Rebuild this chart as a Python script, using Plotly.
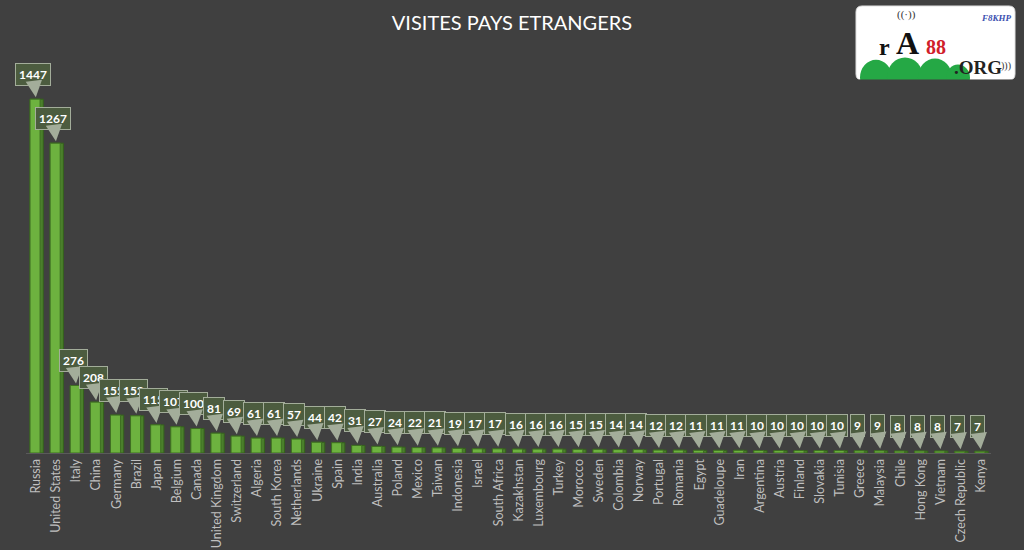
import plotly.graph_objects as go

countries = ["Russia", "United States", "Italy", "China", "Germany", "Brazil", "Japan", "Belgium",
             "Canada", "United Kingdom", "Switzerland", "Algeria", "South Korea", "Netherlands",
             "Ukraine", "Spain", "India", "Australia", "Poland", "Mexico", "Taiwan", "Indonesia",
             "Israel", "South Africa", "Kazakhstan", "Luxembourg", "Turkey", "Morocco", "Sweden",
             "Colombia", "Norway", "Portugal", "Romania", "Egypt", "Guadeloupe", "Iran", "Argentina",
             "Austria", "Finland", "Slovakia", "Tunisia", "Greece", "Malaysia", "Chile", "Hong Kong",
             "Vietnam", "Czech Republic", "Kenya"]
visits = [1447, 1267, 276, 208, 155, 152, 115, 107, 100, 81, 69, 61, 61, 57, 44, 42, 31, 27, 24,
          22, 21, 19, 17, 17, 16, 16, 16, 15, 15, 14, 14, 12, 12, 11, 11, 11, 10, 10, 10, 10, 10,
          9, 9, 8, 8, 8, 7, 7]
title_text = "VISITES PAYS ETRANGERS"

BG = "#404040"
ML, MR, MT, MB = 26, 33, 60, 97
W, H = 1024, 550

def px2paper(px, py):
    return (px - ML) / (W - ML - MR), 1 - (py - MT) / (H - MT - MB)

fig = go.Figure()
# side (darker) face
fig.add_trace(go.Bar(x=countries, y=visits, width=0.66, offset=-0.30,
                     marker=dict(color="#4a7f2b", line=dict(color="#35601d", width=1)),
                     hoverinfo="skip", showlegend=False))
# front (lighter) face
fig.add_trace(go.Bar(x=countries, y=visits, width=0.50, offset=-0.30,
                     marker=dict(color="#6db23f", line=dict(color="#3f6e23", width=1)),
                     showlegend=False))

annotations = []
for c, v in zip(countries, visits):
    annotations.append(dict(
        x=c, y=v, xref="x", yref="y", text="<b>%d</b>" % v,
        showarrow=True, ax=-3, ay=-25, axref="pixel", ayref="pixel",
        arrowhead=2, arrowsize=1.1, arrowwidth=3, arrowcolor="#a3ad9a", standoff=2,
        bgcolor="#4c5c3f", bordercolor="#a3ad9a", borderwidth=1, borderpad=3,
        font=dict(color="white", size=12, family="Lato")))

# logo (approximation)
logo_texts = [
    dict(x=884, y=47, text="<b>r</b>", size=24, color="#111111"),
    dict(x=907, y=43, text="<b>A</b>", size=32, color="#111111"),
    dict(x=936, y=47, text="<b>88</b>", size=20, color="#d0202a"),
    dict(x=978, y=68, text="<b>.ORG</b>", size=19, color="#222222"),
    dict(x=996, y=18, text="<i><b>F8KHP</b></i>", size=9, color="#3b4fb0"),
    dict(x=906, y=15, text="((·))", size=11, color="#333333"),
    dict(x=1006, y=66, text=")))", size=10, color="#333333"),
]
for t in logo_texts:
    ax_, ay_ = px2paper(t["x"], t["y"])
    annotations.append(dict(x=ax_, y=ay_, xref="paper", yref="paper", text=t["text"],
                            showarrow=False, font=dict(size=t["size"], color=t["color"], family="Liberation Serif"),
                            xanchor="center", yanchor="middle"))

fig.update_layout(
    width=W, height=H,
    paper_bgcolor=BG, plot_bgcolor=BG,
    margin=dict(l=ML, r=MR, t=MT, b=MB, autoexpand=False),
    barmode="overlay",
    title=dict(text=title_text, x=0.5, xanchor="center", y=0.958, yanchor="middle",
               font=dict(color="white", size=20, family="Lato")),
    xaxis=dict(type="category", tickangle=-90, showgrid=False, showline=True,
               linecolor="#5a5a5a", linewidth=1, ticks="", automargin=False,
               tickfont=dict(color="#bfbfbf", size=12.5, family="Lato"),
               range=[-0.5, len(countries) - 0.5]),
    yaxis=dict(visible=False, range=[0, 1607], showgrid=False),
    annotations=annotations,
)

# rounded white logo box
x0, y1 = px2paper(856, 80)
x1, y0 = px2paper(1015, 6)
rx = 6 / (W - ML - MR)
ry = 6 / (H - MT - MB)
path = (f"M {x0+rx},{y0} L {x1-rx},{y0} Q {x1},{y0} {x1},{y0-ry} L {x1},{y1+ry} "
        f"Q {x1},{y1} {x1-rx},{y1} L {x0+rx},{y1} Q {x0},{y1} {x0},{y1+ry} L {x0},{y0-ry} "
        f"Q {x0},{y0} {x0+rx},{y0} Z")
fig.add_shape(type="path", xref="paper", yref="paper", path=path,
              fillcolor="white", line=dict(color="#e0e0e0", width=1), layer="above")
for cx, r in [(876, 16), (905, 18), (935, 17), (958, 12)]:
    a0, b0 = px2paper(cx - r, 79 + r)
    a1, b1 = px2paper(cx + r, 79 - r * 1.2)
    fig.add_shape(type="circle", xref="paper", yref="paper", x0=a0, y0=b0, x1=a1, y1=b1,
                  fillcolor="#25a845", line=dict(width=0), layer="above")
# cover below hills
a0, b0 = px2paper(854, 100)
a1, b1 = px2paper(1017, 79.5)
fig.add_shape(type="rect", xref="paper", yref="paper", x0=a0, y0=b0, x1=a1, y1=b1,
              fillcolor=BG, line=dict(width=0), layer="above")

fig.write_html("out.html")
